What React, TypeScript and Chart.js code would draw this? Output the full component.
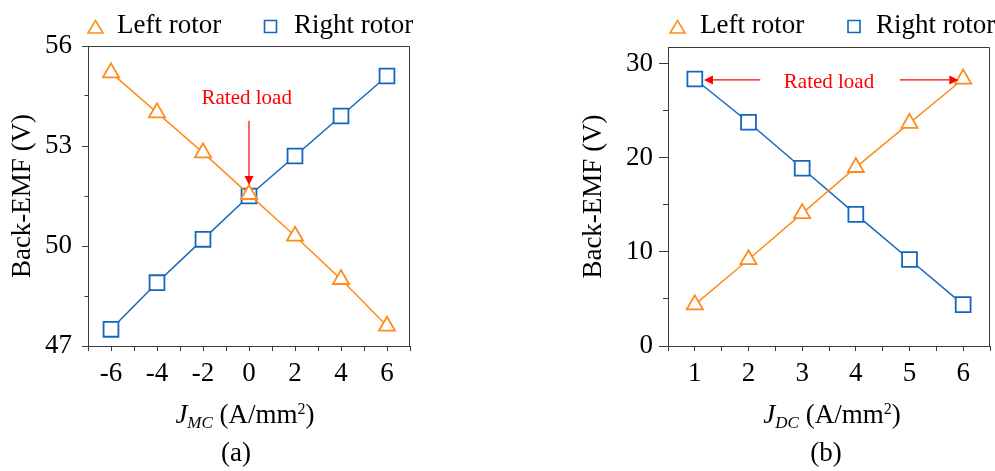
import React, { useEffect, useRef } from 'react';
import { Chart, registerables } from 'chart.js';

Chart.register(...registerables);

const FONT = "'Liberation Serif', 'Times New Roman', serif";
const ORANGE = '#FF8C1A';
const BLUE = '#1565C0';
const AXIS = '#3a3a3a';
const RED = '#FF0000';

const seriesNames = ['Left rotor', 'Right rotor'];

// ---- (a) ----
const jmc = [-6, -4, -2, 0, 2, 4, 6];
const leftRotorA = [55.2, 54.0, 52.8, 51.55, 50.3, 49.0, 47.6];
const rightRotorA = [47.5, 48.9, 50.2, 51.5, 52.7, 53.9, 55.1];
const xLabelsA = [-6, -4, -2, 0, 2, 4, 6];
const yMajorA = [47, 50, 53, 56];
const yMinorA = [48.5, 51.5, 54.5];

// ---- (b) ----
const jdc = [1, 2, 3, 4, 5, 6];
const leftRotorB = [4.4, 9.2, 14.1, 19.0, 23.7, 28.4];
const rightRotorB = [28.4, 23.8, 18.9, 14.0, 9.2, 4.4];
const xLabelsB = [1, 2, 3, 4, 5, 6];
const yMajorB = [0, 10, 20, 30];
const yMinorB = [5, 15, 25];

const tickFont = { family: FONT, size: 27 };

function arrow(ctx: CanvasRenderingContext2D, x1: number, y1: number, x2: number, y2: number) {
  const ang = Math.atan2(y2 - y1, x2 - x1);
  const L = 9, W = 4.5;
  const bx = x2 - L * Math.cos(ang), by = y2 - L * Math.sin(ang);
  ctx.beginPath();
  ctx.moveTo(x1, y1);
  ctx.lineTo(bx, by);
  ctx.stroke();
  ctx.beginPath();
  ctx.moveTo(x2, y2);
  ctx.lineTo(bx + W * Math.sin(ang), by - W * Math.cos(ang));
  ctx.lineTo(bx - W * Math.sin(ang), by + W * Math.cos(ang));
  ctx.closePath();
  ctx.fill();
}

const decorPlugin = {
  id: 'decor',
  beforeDatasetsDraw(chart: any) {
    const { ctx, chartArea: a } = chart;
    ctx.save();
    ctx.strokeStyle = AXIS;
    ctx.lineWidth = 1;
    const t = Math.round(a.top) + 0.5;
    const r = Math.round(a.right) - 0.5;
    ctx.beginPath();
    ctx.moveTo(a.left, t);
    ctx.lineTo(r, t);
    ctx.lineTo(r, a.bottom);
    ctx.stroke();
    ctx.restore();
  },
  afterDraw(chart: any, _args: any, opts: any) {
    const { ctx } = chart;
    const xs = chart.scales.x;
    const ys = chart.scales.y;
    ctx.save();

    // legend
    const lg = opts.legend;
    chart.data.datasets.forEach((ds: any, i: number) => {
      const it = lg.items[i];
      ctx.strokeStyle = ds.borderColor;
      ctx.fillStyle = '#fff';
      ctx.lineWidth = 1.6;
      ctx.beginPath();
      if (ds.pointStyle === 'triangle') {
        ctx.moveTo(it.mx, lg.cy - 6.5);
        ctx.lineTo(it.mx + 7.5, lg.cy + 6);
        ctx.lineTo(it.mx - 7.5, lg.cy + 6);
        ctx.closePath();
      } else {
        ctx.rect(it.mx - 6, lg.cy - 6.5, 12, 12);
      }
      ctx.fill();
      ctx.stroke();
      ctx.fillStyle = '#000';
      ctx.font = `27px ${FONT}`;
      ctx.textAlign = 'left';
      ctx.textBaseline = 'alphabetic';
      ctx.fillText(ds.label, it.tx, lg.baseline);
    });

    // annotation
    const an = opts.annotation;
    ctx.fillStyle = RED;
    ctx.strokeStyle = RED;
    ctx.lineWidth = 1.2;
    ctx.font = `21px ${FONT}`;
    ctx.textAlign = 'center';
    ctx.textBaseline = 'alphabetic';
    ctx.fillText(an.text, xs.getPixelForValue(an.tx), ys.getPixelForValue(an.ty));
    an.arrows.forEach((ar: any) => {
      arrow(
        ctx,
        xs.getPixelForValue(ar.from[0]), ys.getPixelForValue(ar.from[1]),
        xs.getPixelForValue(ar.to[0]), ys.getPixelForValue(ar.to[1])
      );
    });

    // x title with sub/superscript
    const xt = opts.xTitle;
    const parts = [
      { t: 'J', f: `italic 27px ${FONT}`, dy: 0 },
      { t: xt.sub, f: `italic 17px ${FONT}`, dy: 5 },
      { t: ' (A/mm', f: `27px ${FONT}`, dy: 0 },
      { t: '2', f: `16px ${FONT}`, dy: -9 },
      { t: ')', f: `27px ${FONT}`, dy: 0 },
    ];
    let total = 0;
    const widths = parts.map((p) => {
      ctx.font = p.f;
      const w = ctx.measureText(p.t).width;
      total += w;
      return w;
    });
    let x = xt.cx - total / 2;
    ctx.fillStyle = '#000';
    ctx.textAlign = 'left';
    parts.forEach((p, i) => {
      ctx.font = p.f;
      ctx.fillText(p.t, x, xt.baseline + p.dy);
      x += widths[i];
    });

    // caption
    const cp = opts.caption;
    ctx.font = `27px ${FONT}`;
    ctx.textAlign = 'center';
    ctx.fillText(cp.text, cp.cx, cp.baseline);
    ctx.restore();
  },
};

function mkDataset(label: string, xs: number[], ys: number[], color: string, style: string, radius: number) {
  return {
    label,
    data: xs.map((x, i) => ({ x, y: ys[i] })),
    borderColor: color,
    backgroundColor: '#fff',
    pointBackgroundColor: '#fff',
    pointBorderColor: color,
    pointStyle: style,
    pointRadius: radius,
    pointBorderWidth: 1.8,
    borderWidth: 1.5,
    tension: 0,
    clip: false,
  };
}

function xScale(min: number, max: number, step: number, labels: number[]) {
  return {
    type: 'linear',
    position: 'bottom',
    min,
    max,
    ticks: {
      stepSize: step,
      autoSkip: false,
      maxRotation: 0,
      minRotation: 0,
      padding: 7,
      color: '#000',
      font: tickFont,
      callback: (v: number) => (labels.some((l) => Math.abs(l - v) < 1e-9) ? String(v) : ''),
    },
    grid: { drawOnChartArea: false, drawTicks: true, tickLength: 5, tickColor: AXIS, color: AXIS },
    border: { display: true, color: AXIS, width: 1 },
    afterFit: (s: any) => {
      s.height = 45;
      s.paddingLeft = 0;
      s.paddingRight = 0;
    },
  };
}

function yMain(min: number, max: number, ticks: number[], tickLen: number, pad: number, width: number) {
  return {
    type: 'linear',
    position: 'left',
    weight: 1,
    min,
    max,
    afterBuildTicks: (s: any) => {
      s.ticks = ticks.map((v) => ({ value: v }));
    },
    ticks: { padding: pad, color: '#000', font: tickFont, callback: (v: number) => String(v) },
    grid: { drawOnChartArea: false, drawTicks: true, tickLength: tickLen, tickColor: AXIS, color: AXIS },
    border: { display: true, color: AXIS, width: 1 },
    title: {
      display: true,
      text: 'Back-EMF (V)',
      color: '#000',
      font: { family: FONT, size: 27 },
      padding: { top: 7, bottom: 0 },
    },
    afterFit: (s: any) => {
      s.width = width;
    },
  };
}

function yMinor(min: number, max: number, ticks: number[], tickLen: number) {
  return {
    type: 'linear',
    position: 'left',
    weight: 0,
    min,
    max,
    afterBuildTicks: (s: any) => {
      s.ticks = ticks.map((v) => ({ value: v }));
    },
    ticks: { display: false },
    grid: { drawOnChartArea: false, drawTicks: true, tickLength: tickLen, tickColor: AXIS, color: AXIS },
    border: { display: false },
    afterFit: (s: any) => {
      s.width = 0;
    },
  };
}

function cfgA(): any {
  return {
    type: 'line',
    data: {
      datasets: [
        mkDataset(seriesNames[0], jmc, leftRotorA, ORANGE, 'triangle', 9.3),
        mkDataset(seriesNames[1], jmc, rightRotorA, BLUE, 'rect', 10.5),
      ],
    },
    options: {
      responsive: false,
      devicePixelRatio: 1,
      animation: false,
      events: [],
      layout: { autoPadding: false, padding: { left: 0, right: 87, top: 46, bottom: 80 } },
      scales: {
        x: xScale(-7, 7, 1, xLabelsA),
        y: yMain(47, 56, yMajorA, 6, 10, 88),
        yMinor: yMinor(47, 56, yMinorA, 3.5),
      },
      plugins: {
        legend: { display: false },
        tooltip: { enabled: false },
        decor: {
          legend: { cy: 27, baseline: 33, items: [{ mx: 95.5, tx: 117 }, { mx: 270.5, tx: 294 }] },
          annotation: { text: 'Rated load', tx: -0.1, ty: 54.26, arrows: [{ from: [0, 53.76], to: [0, 51.83] }] },
          xTitle: { sub: 'MC', cx: 245, baseline: 423 },
          caption: { text: '(a)', cx: 236, baseline: 461 },
        },
      },
    },
    plugins: [decorPlugin],
  };
}

function cfgB(): any {
  return {
    type: 'line',
    data: {
      datasets: [
        mkDataset(seriesNames[0], jdc, leftRotorB, ORANGE, 'triangle', 9.3),
        mkDataset(seriesNames[1], jdc, rightRotorB, BLUE, 'rect', 10.5),
      ],
    },
    options: {
      responsive: false,
      devicePixelRatio: 1,
      animation: false,
      events: [],
      layout: { autoPadding: false, padding: { left: 74, right: 5, top: 47, bottom: 80 } },
      scales: {
        x: xScale(0.5, 6.5, 0.5, xLabelsB),
        y: yMain(0, 31.8, yMajorB, 9, 6, 97),
        yMinor: yMinor(0, 31.8, yMinorB, 5),
      },
      plugins: {
        legend: { display: false },
        tooltip: { enabled: false },
        decor: {
          legend: { cy: 27, baseline: 33, items: [{ mx: 180.5, tx: 203 }, { mx: 357, tx: 379 }] },
          annotation: {
            text: 'Rated load',
            tx: 3.5,
            ty: 27.41,
            arrows: [
              { from: [2.22, 28.3], to: [1.17, 28.3] },
              { from: [4.82, 28.3], to: [5.91, 28.3] },
            ],
          },
          xTitle: { sub: 'DC', cx: 335, baseline: 423 },
          caption: { text: '(b)', cx: 329, baseline: 461 },
        },
      },
    },
    plugins: [decorPlugin],
  };
}

export default function App() {
  const refA = useRef<HTMLCanvasElement>(null);
  const refB = useRef<HTMLCanvasElement>(null);
  useEffect(() => {
    const a = new Chart(refA.current as HTMLCanvasElement, cfgA());
    const b = new Chart(refB.current as HTMLCanvasElement, cfgB());
    return () => {
      a.destroy();
      b.destroy();
    };
  }, []);
  return (
    <div style={{ position: 'fixed', left: 0, top: 0, width: 995, height: 471, background: '#fff' }}>
      <canvas
        ref={refA}
        width={497}
        height={471}
        style={{ position: 'absolute', left: 0, top: 0, width: 497, height: 471 }}
      />
      <canvas
        ref={refB}
        width={498}
        height={471}
        style={{ position: 'absolute', left: 497, top: 0, width: 498, height: 471 }}
      />
    </div>
  );
}
